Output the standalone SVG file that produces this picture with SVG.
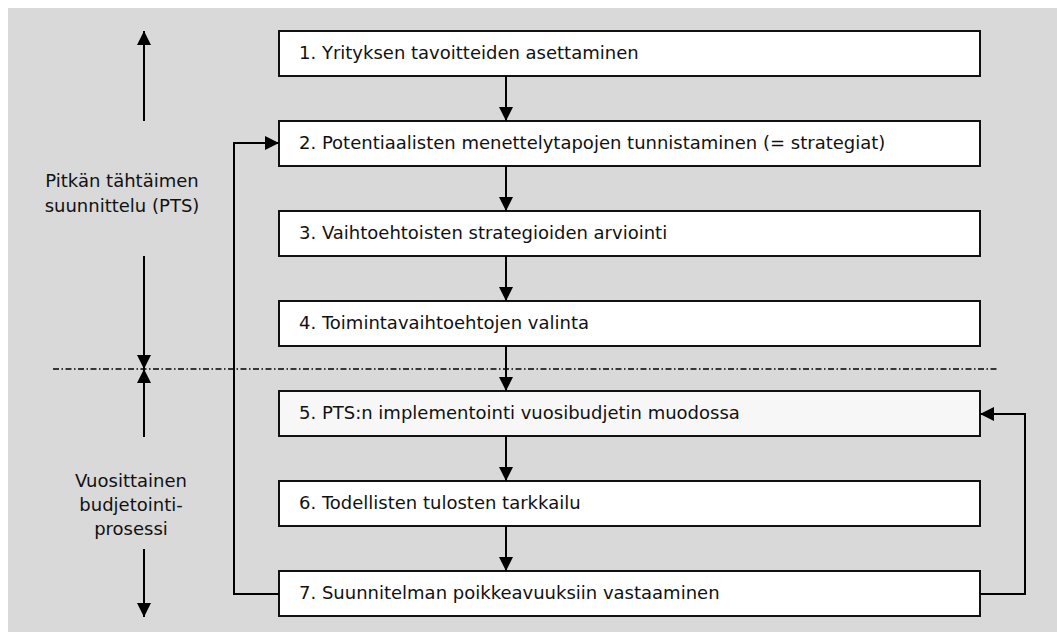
<svg xmlns="http://www.w3.org/2000/svg" width="1057" height="632" viewBox="0 0 1057 632">
<defs>
<marker id="ah" markerUnits="userSpaceOnUse" markerWidth="14" markerHeight="14" refX="14" refY="7" orient="auto">
<path d="M0,0 L14,7 L0,14 z" fill="#000"/>
</marker>
<style>
.box{fill:#fff;stroke:#111;stroke-width:2}
.t{font-family:"DejaVu Sans",Verdana,sans-serif;font-size:18px;fill:#111}
.lbl{font-family:"DejaVu Sans",Verdana,sans-serif;font-size:18px;fill:#111;text-anchor:middle}
.c{fill:none;stroke:#000;stroke-width:2}
.dd{fill:none;stroke:#000;stroke-width:1.5;stroke-dasharray:6 2.5 1.5 2.5}
</style>
</defs>
<rect x="8" y="8" width="1049" height="624" fill="#d9d9d9"/>
<g id="n1"><rect class="box" x="279" y="31" width="701" height="45"/><text class="t" x="299" y="59">1. Yrityksen tavoitteiden asettaminen</text></g>
<g id="n2"><rect class="box" x="279" y="121" width="701" height="45"/><text class="t" x="299" y="149">2. Potentiaalisten menettelytapojen tunnistaminen (= strategiat)</text></g>
<g id="n3"><rect class="box" x="279" y="211" width="701" height="45"/><text class="t" x="299" y="239">3. Vaihtoehtoisten strategioiden arviointi</text></g>
<g id="n4"><rect class="box" x="279" y="301" width="701" height="45"/><text class="t" x="299" y="329">4. Toimintavaihtoehtojen valinta</text></g>
<g id="n5"><rect class="box" x="279" y="391" width="701" height="45" style="fill:#f7f7f7"/><text class="t" x="299" y="419">5. PTS:n implementointi vuosibudjetin muodossa</text></g>
<g id="n6"><rect class="box" x="279" y="481" width="701" height="45"/><text class="t" x="299" y="509">6. Todellisten tulosten tarkkailu</text></g>
<g id="n7"><rect class="box" x="279" y="571" width="701" height="45"/><text class="t" x="299" y="599">7. Suunnitelman poikkeavuuksiin vastaaminen</text></g>
<g id="labels">
<text class="lbl" x="122" y="187">Pitkän tähtäimen</text>
<text class="lbl" x="122" y="212">suunnittelu (PTS)</text>
<text class="lbl" x="131" y="487">Vuosittainen</text>
<text class="lbl" x="131" y="511">budjetointi-</text>
<text class="lbl" x="131" y="535">prosessi</text>
</g>
<g id="connectors">
<line class="dd" x1="53" y1="369" x2="999" y2="369"/>
<line class="c" x1="506" y1="76" x2="506" y2="121" marker-end="url(#ah)"/>
<line class="c" x1="506" y1="166" x2="506" y2="211" marker-end="url(#ah)"/>
<line class="c" x1="506" y1="256" x2="506" y2="301" marker-end="url(#ah)"/>
<line class="c" x1="506" y1="346" x2="506" y2="391" marker-end="url(#ah)"/>
<line class="c" x1="506" y1="436" x2="506" y2="481" marker-end="url(#ah)"/>
<line class="c" x1="506" y1="526" x2="506" y2="571" marker-end="url(#ah)"/>
<polyline class="c" points="279,594 234,594 234,143 279,143" marker-end="url(#ah)"/>
<polyline class="c" points="980,594 1025,594 1025,414 980,414" marker-end="url(#ah)"/>
<line class="c" x1="144" y1="121" x2="144" y2="31" marker-end="url(#ah)"/>
<line class="c" x1="144" y1="256" x2="144" y2="369" marker-end="url(#ah)"/>
<line class="c" x1="144" y1="437" x2="144" y2="369" marker-end="url(#ah)"/>
<line class="c" x1="144" y1="549" x2="144" y2="617" marker-end="url(#ah)"/>
</g>
</svg>
